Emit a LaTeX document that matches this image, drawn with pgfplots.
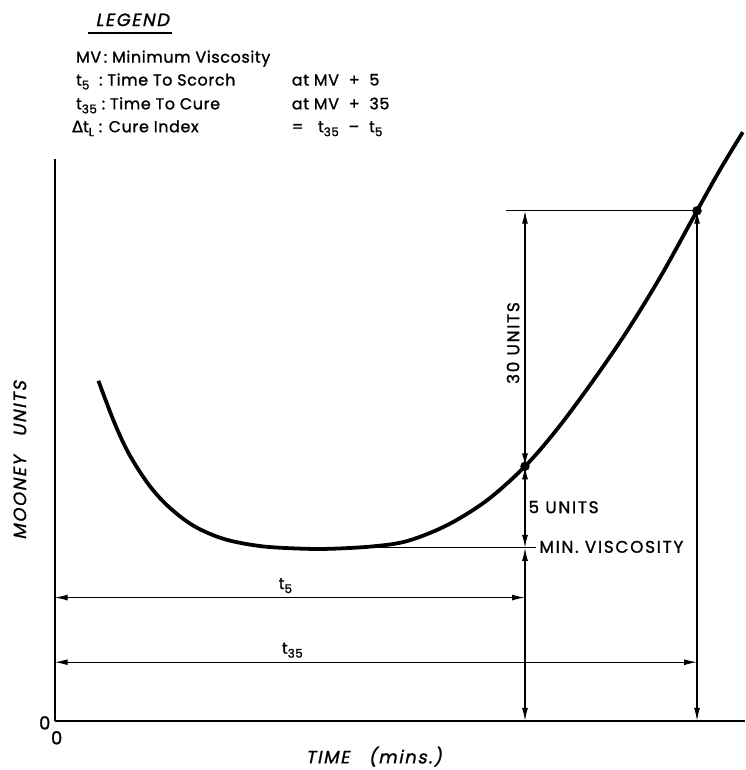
\documentclass[border=0pt]{standalone}
\usepackage{pgfplots}
\pgfplotsset{compat=1.18}
\usetikzlibrary{arrows.meta}
\usepackage{fontspec}
\setmainfont{Poppins}[FakeBold=1.2, LetterSpace=4]
\newfontfamily\capsfont{Poppins}[FakeBold=1.2, LetterSpace=10]
\newfontfamily\greekfont{DejaVu Sans}[FakeBold=1.2]
\newfontfamily\slantfont{Poppins}[FakeSlant=0.2, FakeBold=1.2, LetterSpace=9]
\newcommand{\sub}[1]{\raisebox{-0.45ex}{\fontsize{12}{13}\selectfont #1}}

\begin{document}
\begin{tikzpicture}[
  dim/.style={line width=1.2pt, {Latex[length=13pt,width=6pt]}-{Latex[length=13pt,width=6pt]}},
  lbl/.style={font=\fontsize{16}{19}\selectfont},
  capslbl/.style={font=\fontsize{17}{20}\selectfont\capsfont},
  ital/.style={font=\fontsize{18}{21}\selectfont\slantfont},
]
\begin{axis}[
  x=1pt, y=1pt,
  xmin=0, xmax=694, ymin=0, ymax=565,
  axis x line=bottom, axis y line=left,
  axis line style={-, line width=2pt},
  xtick=\empty, ytick=\empty,
  clip=false,
]
% bounding box of the whole figure
\path (axis cs:-55,-45) rectangle (axis cs:694,725);

% cure curve
\addplot[line width=3.8pt, smooth, tension=0.55] coordinates {
  (44,342) (60,300) (75,268) (95,237) (115,215) (140,196) (170,183)
  (205,176) (240,173.5) (275,173) (320,175.5) (355,181) (395,197)
  (435,222) (473,256) (505,293) (540,340) (575,391) (610,448)
  (646,513) (669,554) (692,592)};
\addplot[only marks, mark=*, mark size=4.5pt] coordinates {(473,256) (646,513)};

% reference lines
\addplot[line width=1.2pt] coordinates {(317,174) (484,174)};
\addplot[line width=1.2pt] coordinates {(454,513) (646,513)};

% dimension arrows
\addplot[dim] coordinates {(473,0) (473,174)};
\addplot[dim] coordinates {(473,174) (473,256)};
\addplot[dim] coordinates {(473,256) (473,513)};
\addplot[dim] coordinates {(646,0) (646,513)};
\addplot[dim] coordinates {(0,124) (473,124)};
\addplot[dim] coordinates {(0,59) (646,59)};

% labels on the chart
\node[lbl] at (axis cs:232,136) {t\sub{5}};
\node[lbl] at (axis cs:239,71) {t\sub{35}};
\node[capslbl, rotate=90] at (axis cs:461,380) {30 UNITS};
\node[capslbl, anchor=west] at (axis cs:473,215) {5 UNITS};
\node[capslbl, anchor=west] at (axis cs:484,175) {MIN. VISCOSITY};
\node[font=\fontsize{18}{20}\selectfont] at (axis cs:-10,-2) {0};
\node[font=\fontsize{18}{20}\selectfont] at (axis cs:2,-17) {0};
\node[ital, rotate=90] at (axis cs:-35,262) {MOONEY\ \ \ UNITS};
\node[ital] at (axis cs:321,-36) {TIME\ \ \ (mins.)};

% legend block
\node[ital] at (axis cs:78,705) {LEGEND};
\draw[line width=1.5pt] (axis cs:34,692) -- (axis cs:118,692);
\node[lbl, anchor=base west] at (axis cs:18,662) {MV\,:\ Minimum\ Viscosity};
\node[lbl, anchor=base west] at (axis cs:18,639) {t\sub{5}\ \ :\ Time To Scorch};
\node[lbl, anchor=base west] at (axis cs:235,639) {at\ MV\ \ +\ \ 5};
\node[lbl, anchor=base west] at (axis cs:18,615) {t\sub{35} :\ Time To Cure};
\node[lbl, anchor=base west] at (axis cs:235,615) {at\ MV\ \ +\ \ 35};
\node[lbl, anchor=base west] at (axis cs:14,592) {{\greekfont Δ}t\sub{L} : Cure Index};
\node[lbl, anchor=base west] at (axis cs:235,592) {=\ \ \ t\sub{35}\ \ --\ \ t\sub{5}};
\end{axis}
\end{tikzpicture}
\end{document}
